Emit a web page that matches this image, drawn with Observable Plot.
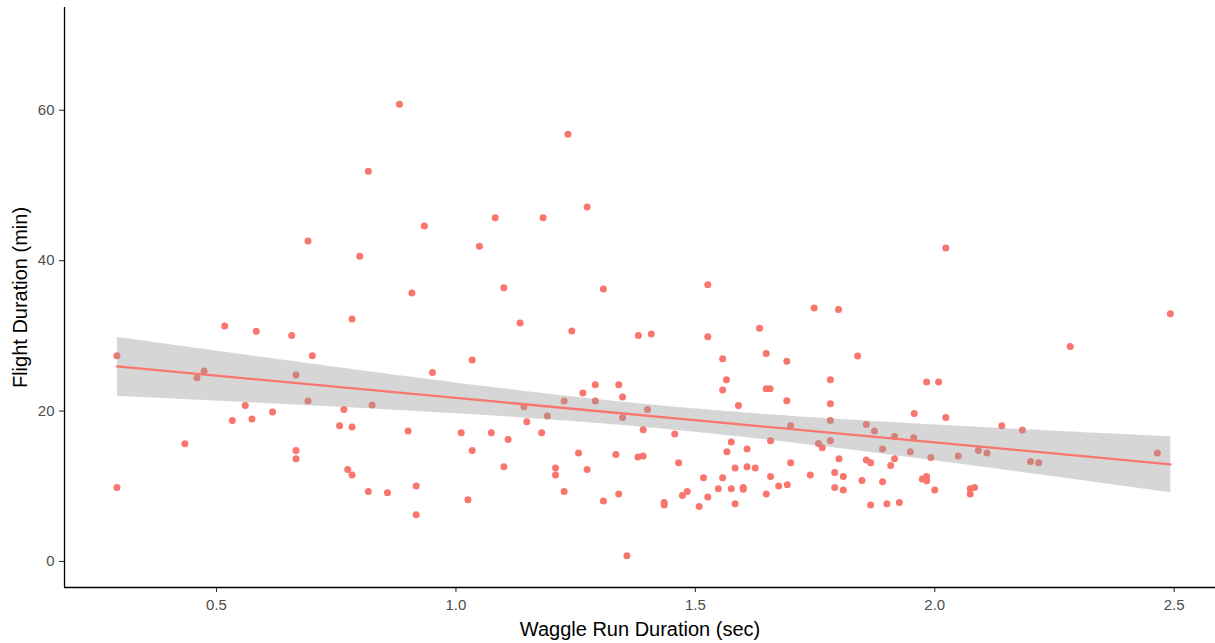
<!DOCTYPE html>
<html><head><meta charset="utf-8">
<script src="https://cdn.jsdelivr.net/npm/d3@7"></script>
<script src="https://cdn.jsdelivr.net/npm/@observablehq/plot@0.6"></script>
<style>html,body{margin:0;padding:0;background:#fff;} svg{display:block}</style>
</head><body><div id="chart"></div>
<script>
const waggle = [0.292,0.292,0.517,0.583,0.657,0.783,0.700,0.474,0.459,0.666,
0.691,0.560,0.533,0.574,0.617,0.766,0.757,0.783,0.434,0.666,
0.666,0.774,0.783,0.691,0.799,0.882,1.234,0.817,1.274,1.082,
1.182,0.934,1.049,0.908,1.100,1.308,1.134,1.242,1.381,1.034,
0.951,0.825,0.900,1.011,1.074,1.109,1.034,0.817,0.857,0.917,
0.917,1.025,1.100,1.265,1.291,1.340,1.348,1.291,1.226,1.142,
1.148,1.191,1.179,1.348,1.256,1.208,1.208,1.274,1.334,1.380,
1.226,1.308,1.340,1.357,1.526,1.748,1.799,1.408,1.526,1.634,
1.648,1.557,1.691,1.839,1.565,1.557,1.648,1.656,1.782,1.691,
1.782,1.590,1.400,1.782,1.957,1.857,1.874,1.916,1.956,1.699,
1.391,1.457,1.657,1.782,1.575,1.757,1.765,1.891,1.949,1.566,
1.608,1.391,1.465,1.699,1.800,1.857,1.866,1.916,1.908,1.583,
1.608,1.625,1.791,1.809,1.740,1.657,1.517,1.557,1.848,1.891,
1.692,1.674,1.548,1.575,1.600,1.600,1.791,1.809,1.483,1.473,
1.526,1.508,1.435,1.435,1.648,1.583,1.866,1.900,1.926,2.023,
2.492,2.283,1.983,2.008,2.023,2.140,2.183,1.992,2.049,2.091,
2.109,2.200,2.217,2.465,1.974,1.983,1.983,2.000,2.074,2.083,2.074];
const flight = [27.36,9.84,31.32,30.60,30.06,32.25,27.36,25.33,24.44,24.80,
21.34,20.75,18.76,18.94,19.87,20.22,18.05,17.88,15.66,14.77,
13.66,12.24,11.49,42.62,40.60,60.79,56.80,51.88,47.15,45.72,
45.72,44.62,41.90,35.71,36.41,36.24,31.71,30.65,30.06,26.79,
25.14,20.81,17.35,17.12,17.12,16.23,14.77,9.31,9.14,10.03,
6.21,8.21,12.60,22.40,23.51,23.51,21.87,21.34,21.34,20.58,
18.58,19.34,17.12,19.16,14.42,12.42,11.49,12.24,14.23,13.89,
9.31,8.04,8.97,0.76,36.81,33.71,33.52,30.25,29.89,31.00,
27.67,26.97,26.61,27.32,24.17,22.80,22.97,22.97,24.17,21.38,
20.98,20.75,20.22,18.76,19.69,18.22,17.35,16.63,16.46,18.05,
17.52,16.95,16.06,16.06,15.88,15.70,15.13,14.95,14.59,14.59,
14.95,14.02,13.13,13.13,13.66,13.49,13.13,13.66,12.77,12.42,
12.60,12.42,11.84,11.31,11.49,11.31,11.13,11.13,10.78,10.60,
10.20,10.03,9.67,9.67,9.84,9.60,9.84,9.50,9.31,8.78,
8.57,7.32,7.85,7.50,8.97,7.68,7.50,7.68,7.85,41.69,
32.95,28.60,23.87,23.87,19.16,18.05,17.48,13.84,14.02,14.77,
14.42,13.30,13.13,14.42,10.96,11.31,10.74,9.50,9.67,9.84,8.97];
const xTicks = [0.5, 1.0, 1.5, 2.0, 2.5];
const yTicks = [0, 20, 40, 60];
const xDomain = [0.1825, 2.5863];
const yDomain = [-3.46, 73.66];
const xTitle = "Waggle Run Duration (sec)";
const yTitle = "Flight Duration (min)";

const data = waggle.map((w, i) => ({waggle: w, flight: flight[i]}));

const chart = Plot.plot({
  width: 1215, height: 643,
  marginLeft: 64, marginRight: 0, marginTop: 7, marginBottom: 56,
  style: {fontFamily: "'Liberation Sans', Arial, sans-serif", background: "#ffffff"},
  x: {domain: xDomain},
  y: {domain: yDomain},
  marks: [
    Plot.dot(data, {x: "waggle", y: "flight", r: 3.5, fill: "#F8766D", stroke: "none"}),
    Plot.linearRegressionY(data, {x: "waggle", y: "flight", stroke: "#F8766D", strokeWidth: 2.3, fill: "#999999", fillOpacity: 0.4, ci: 0.95}),
    Plot.axisX({ticks: xTicks, tickFormat: d3.format(".1f"), tickSize: 5, tickPadding: 7, fontSize: 15, stroke: "#333333", strokeWidth: 1.1, fill: "#4d4d4d", label: null}),
    Plot.axisY({ticks: yTicks, tickSize: 5, tickPadding: 5, fontSize: 15, stroke: "#333333", strokeWidth: 1.1, fill: "#4d4d4d", label: null}),
    Plot.ruleY([yDomain[0]], {stroke: "#000000", strokeWidth: 1.3}),
    Plot.ruleX([xDomain[0]], {stroke: "#000000", strokeWidth: 1.3}),
    Plot.text([xTitle], {frameAnchor: "bottom", textAnchor: "middle", lineAnchor: "middle", dy: 42, fontSize: 20, fill: "#000000"}),
    Plot.text([yTitle], {frameAnchor: "left", textAnchor: "middle", lineAnchor: "middle", dx: -44, rotate: -90, fontSize: 20, fill: "#000000"})
  ]
});
document.getElementById("chart").append(chart);
</script>
</body></html>
